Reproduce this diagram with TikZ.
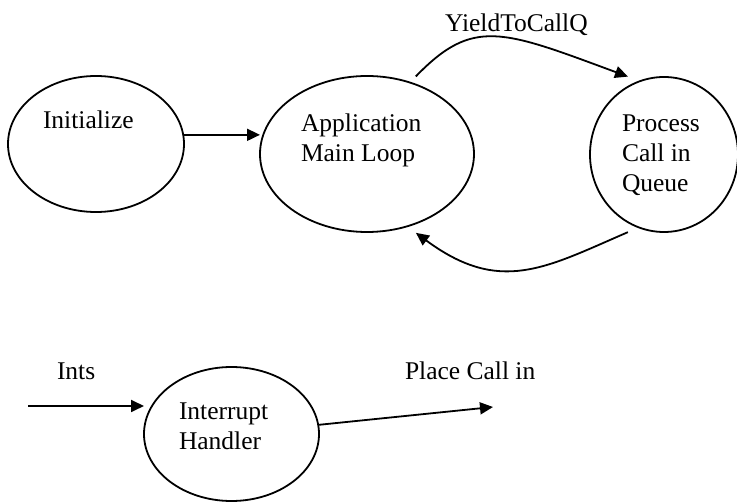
\documentclass[tikz,border=0pt]{standalone}
\usepackage{fontspec}
\setmainfont{Liberation Serif}
\usetikzlibrary{shapes.geometric,arrows.meta}
\tikzset{
  bubble/.style={draw, ellipse, line width=1.8pt, inner sep=0pt, outer sep=0pt},
  txt/.style={anchor=base west, inner sep=0pt, outer sep=0pt, font=\fontsize{25.5}{30}\selectfont},
  arr/.style={line width=1.8pt, -{Triangle[length=13pt,width=12pt]}}
}
\newcommand{\mlines}[1]{\begin{tabular}[t]{@{}l@{}}#1\end{tabular}}
\begin{document}
\begin{tikzpicture}[x=1pt,y=-1pt]
\useasboundingbox (0,0) rectangle (737,502);
% nodes
\node[bubble, minimum width=176pt, minimum height=136pt] (init) at (96,144) {};
\node[bubble, minimum width=214pt, minimum height=156pt] (app) at (367,154) {};
\node[bubble, minimum width=148pt, minimum height=155pt] (proc) at (664,154.5) {};
\node[bubble, minimum width=175pt, minimum height=134pt] (intr) at (231.5,434) {};
% texts
\node[txt] (tinit) at (43,129) {Initialize};
\node[txt] (tapp) at (301,132) {\mlines{Application\\Main Loop}};
\node[txt] (tproc) at (622,132) {\mlines{Process\\Call in\\Queue}};
\node[txt] (tyield) at (445,32) {YieldToCallQ};
\node[txt] (tints) at (57,380) {Ints};
\node[txt] (tplace) at (405,380) {Place Call in};
\node[txt] (tintr) at (179,420) {\mlines{Interrupt\\Handler}};
% free ends
\coordinate (ints0) at (28,406);
\coordinate (pc) at (493,407);
% connectors
\draw[arr] (init.6) -- (init.6 -| app.west);
\draw[arr, shorten <=8.5pt, shorten >=13pt] (app.59) .. controls (473,17.2) and (502,30) .. (proc.108);
\draw[arr, shorten <=12pt, shorten >=11pt] (proc.251) .. controls (545,268) and (500,295) .. (app.299);
\draw[arr] (ints0) -- (ints0 -| intr.west);
\draw[arr] (intr.6) -- (pc);
\end{tikzpicture}
\end{document}
